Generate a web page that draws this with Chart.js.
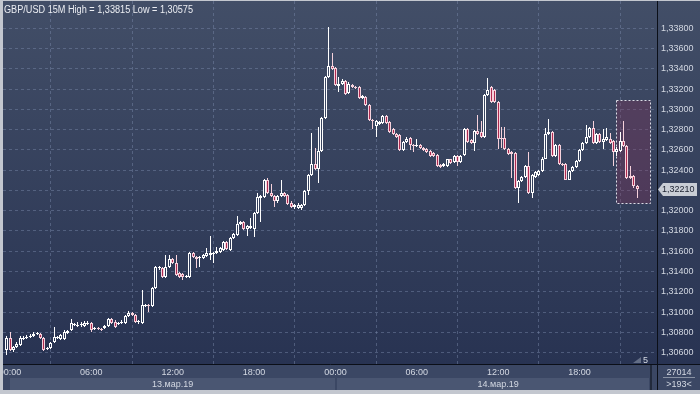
<!DOCTYPE html>
<html><head><meta charset="utf-8">
<script src="https://cdn.jsdelivr.net/npm/chart.js@4/dist/chart.umd.min.js"></script>
<style>html,body{margin:0;padding:0;background:#c3c7cf;overflow:hidden}canvas{display:block}</style>
</head><body>
<canvas id="c" width="700" height="394"></canvas>
<script>
// ---- data (GBP/USD, 15-minute candles; slot 0 = 13.03 00:00, slot -1 = 12.03 23:45) ----
const titleText = 'GBP/USD 15M High = 1,33815 Low = 1,30575';
const firstSlot = -1;
const open = [
1.30626,1.30744,1.30626,1.30656,1.30676,1.30734,1.30744,1.30754,1.30764,1.30784,
1.30784,1.30744,1.30636,1.30646,1.30706,1.30744,1.30734,1.30734,1.30794,1.30824,
1.30874,1.30864,1.30874,1.30864,1.30884,1.30894,1.30834,1.30844,1.30834,1.30844,
1.30864,1.30932,1.30904,1.30884,1.30894,1.30894,1.30962,1.30992,1.30972,1.30904,
1.30894,1.31062,1.31072,1.31062,1.31240,1.31438,1.31438,1.31348,1.31448,1.31526,
1.31488,1.31388,1.31378,1.31348,1.31348,1.31586,1.31546,1.31536,1.31536,1.31556,
1.31566,1.31576,1.31586,1.31596,1.31616,1.31696,1.31616,1.31733,1.31763,1.31873,
1.31893,1.31823,1.31833,1.31823,1.31981,1.32129,1.32139,1.32299,1.32179,1.32149,
1.32091,1.32149,1.32179,1.32159,1.32081,1.32041,1.32031,1.32031,1.32061,1.32199,
1.32357,1.32457,1.32407,1.32585,1.32910,1.33316,1.33426,1.33406,1.33228,1.33248,
1.33278,1.33158,1.33238,1.33218,1.33218,1.33108,1.33118,1.33040,1.32890,1.32832,
1.32852,1.32862,1.32930,1.32872,1.32802,1.32752,1.32742,1.32595,1.32675,1.32722,
1.32645,1.32635,1.32645,1.32615,1.32605,1.32585,1.32565,1.32545,1.32447,1.32437,
1.32437,1.32507,1.32477,1.32535,1.32477,1.32545,1.32802,1.32695,1.32665,1.32782,
1.32772,1.32732,1.33138,1.33218,1.33188,1.33070,1.32722,1.32722,1.32605,1.32575,
1.32565,1.32229,1.32289,1.32337,1.32437,1.32179,1.32337,1.32357,1.32387,1.32515,
1.32752,1.32772,1.32535,1.32645,1.32457,1.32457,1.32307,1.32387,1.32427,1.32487,
1.32595,1.32665,1.32732,1.32812,1.32665,1.32752,1.32675,1.32695,1.32712,1.32685,
1.32575,1.32585,1.32685,1.32635,1.32347,1.32347,1.32239];
const high = [
1.30764,1.30804,1.30666,1.30706,1.30764,1.30764,1.30774,1.30784,1.30804,1.30804,
1.30794,1.30754,1.30656,1.30706,1.30854,1.30764,1.30784,1.30824,1.30824,1.30932,
1.30894,1.30904,1.30904,1.30914,1.30914,1.30904,1.30854,1.30854,1.30844,1.30874,
1.30942,1.30942,1.30924,1.30904,1.30924,1.30972,1.31012,1.31002,1.30982,1.30924,
1.31220,1.31082,1.31082,1.31250,1.31458,1.31458,1.31448,1.31566,1.31566,1.31536,
1.31566,1.31398,1.31388,1.31368,1.31596,1.31596,1.31556,1.31556,1.31576,1.31636,
1.31753,1.31596,1.31646,1.31646,1.31706,1.31706,1.31743,1.31783,1.31951,1.31903,
1.31903,1.31863,1.31931,1.31991,1.32179,1.32159,1.32317,1.32327,1.32259,1.32159,
1.32159,1.32299,1.32189,1.32169,1.32091,1.32071,1.32081,1.32071,1.32209,1.32367,
1.32762,1.32615,1.32822,1.32920,1.33326,1.33815,1.33554,1.33416,1.33316,1.33298,
1.33288,1.33268,1.33248,1.33228,1.33228,1.33138,1.33128,1.33050,1.32902,1.32892,
1.32882,1.32940,1.32940,1.32882,1.32812,1.32762,1.32752,1.32685,1.32732,1.32732,
1.32655,1.32705,1.32655,1.32625,1.32615,1.32595,1.32575,1.32555,1.32457,1.32467,
1.32515,1.32515,1.32545,1.32545,1.32545,1.32812,1.32812,1.32705,1.32792,1.32940,
1.32882,1.33148,1.33306,1.33228,1.33198,1.33080,1.32822,1.32822,1.32615,1.32585,
1.32575,1.32299,1.32347,1.32447,1.32575,1.32367,1.32387,1.32397,1.32525,1.32812,
1.32902,1.32782,1.32655,1.32655,1.32467,1.32467,1.32397,1.32437,1.32497,1.32605,
1.32675,1.32842,1.32822,1.32882,1.32762,1.32762,1.32802,1.32812,1.32762,1.32695,
1.32625,1.32772,1.32882,1.32645,1.32437,1.32357,1.32249];
const low = [
1.30575,1.30616,1.30606,1.30646,1.30666,1.30726,1.30734,1.30744,1.30754,1.30774,
1.30734,1.30616,1.30626,1.30636,1.30696,1.30734,1.30726,1.30726,1.30784,1.30814,
1.30864,1.30854,1.30854,1.30854,1.30874,1.30804,1.30824,1.30824,1.30814,1.30834,
1.30854,1.30884,1.30844,1.30874,1.30884,1.30884,1.30952,1.30962,1.30894,1.30884,
1.30884,1.31052,1.31002,1.31052,1.31230,1.31418,1.31338,1.31338,1.31438,1.31478,
1.31358,1.31338,1.31320,1.31338,1.31338,1.31536,1.31438,1.31448,1.31526,1.31546,
1.31518,1.31488,1.31576,1.31586,1.31606,1.31616,1.31606,1.31723,1.31753,1.31863,
1.31813,1.31753,1.31823,1.31743,1.31971,1.31893,1.32129,1.32169,1.32139,1.32041,
1.32081,1.32139,1.32139,1.32061,1.32031,1.32021,1.32021,1.32011,1.32051,1.32159,
1.32347,1.32397,1.32269,1.32575,1.32902,1.33306,1.33386,1.33228,1.33168,1.33238,
1.33138,1.33148,1.33208,1.33198,1.33100,1.33100,1.33030,1.32882,1.32802,1.32732,
1.32842,1.32852,1.32852,1.32762,1.32742,1.32722,1.32585,1.32585,1.32665,1.32595,
1.32575,1.32625,1.32605,1.32585,1.32565,1.32525,1.32525,1.32427,1.32417,1.32427,
1.32427,1.32457,1.32467,1.32437,1.32467,1.32535,1.32665,1.32655,1.32585,1.32742,
1.32722,1.32722,1.33128,1.33060,1.33060,1.32605,1.32615,1.32595,1.32545,1.32327,
1.32219,1.32081,1.32279,1.32327,1.32169,1.32129,1.32327,1.32347,1.32377,1.32507,
1.32742,1.32525,1.32525,1.32447,1.32437,1.32299,1.32299,1.32377,1.32417,1.32477,
1.32585,1.32655,1.32722,1.32655,1.32655,1.32665,1.32605,1.32685,1.32655,1.32437,
1.32535,1.32575,1.32625,1.32317,1.32317,1.32229,1.32129];
const close = [
1.30744,1.30626,1.30656,1.30686,1.30744,1.30744,1.30754,1.30764,1.30784,1.30794,
1.30744,1.30626,1.30646,1.30696,1.30754,1.30754,1.30774,1.30804,1.30814,1.30894,
1.30884,1.30874,1.30884,1.30894,1.30894,1.30824,1.30844,1.30834,1.30824,1.30864,
1.30932,1.30894,1.30854,1.30894,1.30904,1.30962,1.30992,1.30972,1.30904,1.30914,
1.31072,1.31072,1.31062,1.31240,1.31448,1.31448,1.31348,1.31448,1.31526,1.31488,
1.31368,1.31348,1.31348,1.31358,1.31586,1.31546,1.31526,1.31546,1.31566,1.31586,
1.31586,1.31586,1.31606,1.31636,1.31696,1.31626,1.31733,1.31773,1.31873,1.31893,
1.31823,1.31853,1.31853,1.31981,1.32139,1.32149,1.32299,1.32179,1.32149,1.32091,
1.32149,1.32179,1.32149,1.32071,1.32041,1.32061,1.32061,1.32061,1.32199,1.32357,
1.32457,1.32407,1.32585,1.32910,1.33316,1.33426,1.33396,1.33238,1.33248,1.33278,
1.33148,1.33248,1.33218,1.33208,1.33108,1.33128,1.33040,1.32890,1.32882,1.32882,
1.32872,1.32930,1.32862,1.32772,1.32752,1.32732,1.32595,1.32675,1.32712,1.32645,
1.32635,1.32645,1.32615,1.32595,1.32575,1.32535,1.32535,1.32437,1.32427,1.32457,
1.32507,1.32467,1.32535,1.32477,1.32535,1.32802,1.32675,1.32665,1.32782,1.32752,
1.32732,1.33138,1.33188,1.33070,1.33070,1.32712,1.32705,1.32605,1.32555,1.32555,
1.32229,1.32289,1.32337,1.32437,1.32179,1.32357,1.32377,1.32387,1.32515,1.32752,
1.32772,1.32535,1.32645,1.32457,1.32447,1.32307,1.32387,1.32427,1.32487,1.32595,
1.32665,1.32732,1.32812,1.32665,1.32752,1.32675,1.32712,1.32732,1.32665,1.32575,
1.32605,1.32685,1.32635,1.32327,1.32327,1.32239,1.32210];

const xTickSlots  = [0, 24, 48, 72, 96, 120, 144, 168];
const xTickLabels = ['00:00','06:00','12:00','18:00','00:00','06:00','12:00','18:00'];
const daySlots    = [0, 96];
const dateSlots   = [48, 144];
const dateLabels  = ['13.мар.19', '14.мар.19'];
const yTicks = [1.306,1.308,1.310,1.312,1.314,1.316,1.318,1.320,1.322,1.324,1.326,1.328,1.330,1.332,1.334,1.336,1.338];
const xRange = [-2.065, 190.86];
const yRange = [1.304882, 1.340685];
const boxSlots = [178.8, 188.8];
const boxPrices = [1.3309, 1.3208];
const footerTexts = ['5', '27014', '>193<'];

// ---- styling ----
const FONT = '"Liberation Sans", Arial, sans-serif';
const LABEL = '#d3d8e2';
const PL = 3, PT = 1, PR = 657, PB = 364, W = 700, H = 394;
function panelGradient(c){ const g = c.createLinearGradient(0, PT, 0, PB); g.addColorStop(0, '#424e67'); g.addColorStop(1, '#283352'); return g; }
const isBull = k => close[k] >= open[k];

const bodies = open.map((o, k) => ({x: k + firstSlot, y: [o, close[k]]}));
const wicks  = low.map((l, k) => ({x: k + firstSlot, y: [l, high[k]]}));

const chrome = {
  id: 'chrome',
  beforeDraw(chart){
    const c = chart.ctx, xs = chart.scales.x;
    c.save();
    c.fillStyle = '#c3c7cf'; c.fillRect(0, 0, W, H);
    c.fillStyle = panelGradient(c); c.fillRect(PL, PT, W - PL, PB - PT);
    c.fillStyle = '#3b4764'; c.fillRect(PL, PB, W - PL, 26);
    c.fillStyle = '#4a5672';
    const d0 = Math.round(xs.getPixelForValue(daySlots[0])), d1 = Math.round(xs.getPixelForValue(daySlots[1]));
    c.fillRect(d0, 378, d1 - d0, 12);
    c.fillRect(d1 + 2, 378, 649 - d1 - 2, 12);
    c.restore();
  },
  beforeDatasetsDraw(chart){
    // pixel-snap candle elements for crisp 1px wicks
    chart.data.datasets.forEach((ds, i) => {
      chart.getDatasetMeta(i).data.forEach(el => {
        el.x = Math.floor(el.x) + 0.5;
        el.y = Math.round(el.y); el.base = Math.round(el.base);
      });
    });
    const c = chart.ctx, xs = chart.scales.x, ys = chart.scales.y;
    const x0 = Math.round(xs.getPixelForValue(boxSlots[0])) + 0.5, x1 = Math.round(xs.getPixelForValue(boxSlots[1])) + 0.5;
    const y0 = Math.round(ys.getPixelForValue(boxPrices[0])) + 0.5, y1 = Math.round(ys.getPixelForValue(boxPrices[1])) + 0.5;
    c.save();
    c.fillStyle = 'rgba(140,45,85,0.30)'; c.fillRect(x0, y0, x1 - x0, y1 - y0);
    c.strokeStyle = '#dcdde6'; c.lineWidth = 1; c.setLineDash([2, 2]);
    c.strokeRect(x0, y0, x1 - x0, y1 - y0);
    c.restore();
  },
  afterDraw(chart){
    const c = chart.ctx, xs = chart.scales.x, ys = chart.scales.y;
    c.save();
    // title
    c.font = '10px ' + FONT; c.fillStyle = '#eceef3'; c.textBaseline = 'alphabetic'; c.textAlign = 'left';
    const tw = c.measureText(titleText).width;
    c.save(); c.translate(4, 13); c.scale(189 / tw, 1); c.fillText(titleText, 0, 0); c.restore();
    // date labels
    c.font = '9px ' + FONT; c.fillStyle = LABEL; c.textAlign = 'center';
    dateSlots.forEach((s, k) => c.fillText(dateLabels[k], xs.getPixelForValue(s), 387));
    // small marker + count
    c.fillStyle = 'rgba(105,116,140,0.9)';
    c.beginPath(); c.moveTo(633, 363); c.lineTo(641, 363); c.lineTo(641, 357); c.closePath(); c.fill();
    c.fillStyle = LABEL; c.textAlign = 'left'; c.fillText(footerTexts[0], 643, 363);
    // dividers
    c.fillStyle = '#0b0f18'; c.fillRect(657, PB, 1, 26); c.fillRect(657, PB, W - 657, 1);
    c.fillStyle = '#222a3c'; c.fillRect(650, PB + 1, 2, 25);
    // bottom-right box
    c.fillStyle = LABEL; c.textAlign = 'center';
    c.fillText(footerTexts[1], 679, 375);
    c.fillText(footerTexts[2], 679, 387);
    c.fillStyle = 'rgba(200,205,215,0.55)'; c.fillRect(663, 377, 32, 1);
    // last price tag
    const last = close[close.length - 1];
    const y = Math.round(ys.getPixelForValue(last));
    c.beginPath(); c.moveTo(658, y + 0.5); c.lineTo(663, y - 6); c.lineTo(697, y - 6); c.lineTo(697, y + 7); c.lineTo(663, y + 7); c.closePath();
    c.fillStyle = '#c9cdd5'; c.fill();
    c.fillStyle = '#1c2130'; c.textAlign = 'left'; c.textBaseline = 'middle'; c.font = '9px ' + FONT;
    c.fillText(last.toFixed(5).replace('.', ','), 662, y + 1);
    // outer frame
    c.fillStyle = '#c3c7cf';
    c.fillRect(0, 0, PL, H); c.fillRect(0, 0, W, PT); c.fillRect(0, 390, W, 4);
    c.restore();
  }
};

new Chart(document.getElementById('c'), {
  type: 'bar',
  data: {
    datasets: [
      { label: 'body', data: bodies, order: 0, grouped: false, barThickness: 3, borderWidth: 1, borderSkipped: false,
        inflateAmount: 0, minBarLength: 1,
        borderColor: ctx => isBull(ctx.dataIndex) ? '#ffffff' : '#f6d2dc',
        backgroundColor: ctx => isBull(ctx.dataIndex) ? panelGradient(ctx.chart.ctx) : '#ad2a50' },
      { label: 'wick', data: wicks, order: 1, grouped: false, barThickness: 1, borderWidth: 0, inflateAmount: 0,
        backgroundColor: ctx => isBull(ctx.dataIndex) ? '#ffffff' : '#f6d2dc' }
    ]
  },
  options: {
    responsive: false, devicePixelRatio: 1, animation: false, events: [],
    layout: { padding: { left: PL, top: PT, right: 0, bottom: 0 } },
    plugins: { legend: { display: false }, tooltip: { enabled: false } },
    scales: {
      x: {
        type: 'linear', min: xRange[0], max: xRange[1], offset: false,
        afterBuildTicks: s => { s.ticks = xTickSlots.map(v => ({ value: v })); },
        afterFit: s => { s.height = H - PB; s.paddingLeft = 0; s.paddingRight = 0; },
        ticks: { autoSkip: false, maxRotation: 0, padding: 3, color: LABEL, font: { family: FONT, size: 9 },
                 callback: v => xTickLabels[xTickSlots.indexOf(v)] },
        grid: { color: 'rgba(125,140,172,0.45)', lineWidth: 1, drawTicks: false },
        border: { display: true, color: '#0b0f18', width: 1, dash: [3, 3] }
      },
      y: {
        type: 'linear', position: 'right', min: yRange[0], max: yRange[1],
        afterBuildTicks: s => { s.ticks = yTicks.map(v => ({ value: v })); },
        afterFit: s => { s.width = W - PR; s.paddingTop = 0; s.paddingBottom = 0; },
        ticks: { padding: 4, color: LABEL, font: { family: FONT, size: 9 },
                 callback: v => v.toFixed(5).replace('.', ',') },
        grid: { color: 'rgba(125,140,172,0.45)', lineWidth: 1, drawTicks: false },
        border: { display: true, color: '#0b0f18', width: 1, dash: [3, 3] }
      }
    }
  },
  plugins: [chrome]
});
</script>
</body></html>
